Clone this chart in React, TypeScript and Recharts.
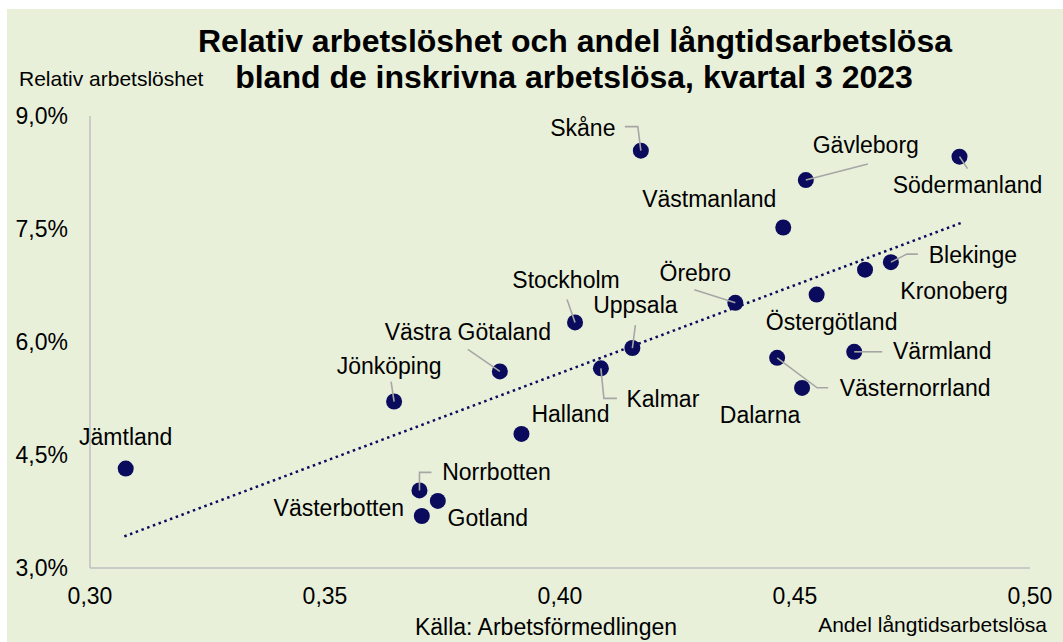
import React from "react";
import { ScatterChart, Scatter, XAxis, YAxis } from "recharts";

// ---- Data ----
const regions = [
  "Jämtland", "Norrbotten", "Gotland", "Västerbotten", "Halland", "Jönköping",
  "Västra Götaland", "Kalmar", "Uppsala", "Stockholm", "Örebro", "Skåne",
  "Västmanland", "Gävleborg", "Södermanland", "Blekinge", "Kronoberg",
  "Östergötland", "Värmland", "Västernorrland", "Dalarna",
];
// Andel långtidsarbetslösa (x)
const andelLangtid = [
  0.3076, 0.3701, 0.3740, 0.3706, 0.3918, 0.3647,
  0.3872, 0.4087, 0.4154, 0.4032, 0.4373, 0.4172,
  0.4475, 0.4523, 0.4850, 0.4704, 0.4649,
  0.4546, 0.4626, 0.4462, 0.4515,
];
// Relativ arbetslöshet, % (y)
const relativArbetsloshet = [
  4.32, 4.03, 3.89, 3.69, 4.78, 5.21,
  5.61, 5.65, 5.92, 6.26, 6.52, 8.54,
  7.52, 8.15, 8.46, 7.06, 6.96,
  6.63, 5.87, 5.79, 5.39,
];
// Trend line endpoints
const trendX = [0.3073, 0.4853];
const trendY = [3.42, 7.58];

const xTicks = [0.3, 0.35, 0.4, 0.45, 0.5];
const yTicks = [3, 4.5, 6, 7.5, 9];

// ---- Label layout (pixel offsets relative to the point) ----
type Layout = { dx: number; dy: number; leader?: [number, number][] };
const labelLayout: Record<string, Layout> = {
  "Jämtland": { dx: 0, dy: -24 },
  "Norrbotten": { dx: 77, dy: -10, leader: [[12, -18], [0, -18], [0, 0]] },
  "Gotland": { dx: 50, dy: 25 },
  "Västerbotten": { dx: -83, dy: 0 },
  "Halland": { dx: 49, dy: -12 },
  "Jönköping": { dx: -5, dy: -28, leader: [[-3, -20], [0, 0]] },
  "Västra Götaland": { dx: -32, dy: -31, leader: [[-32, -22], [0, 0]] },
  "Kalmar": { dx: 62, dy: 39, leader: [[0, 0], [3, 30], [16, 30]] },
  "Uppsala": { dx: 3, dy: -35, leader: [[3, -23], [0, 0]] },
  "Stockholm": { dx: -9, dy: -34, leader: [[-8, -23], [0, 0]] },
  "Örebro": { dx: -40, dy: -22, leader: [[-41, -13], [0, 0]] },
  "Skåne": { dx: -58, dy: -15, leader: [[-16, -24], [-3, -24], [0, 0]] },
  "Västmanland": { dx: -74, dy: -20 },
  "Gävleborg": { dx: 60, dy: -27, leader: [[62, -16], [0, 0]] },
  "Södermanland": { dx: 8, dy: 36, leader: [[8, 12], [0, 0]] },
  "Blekinge": { dx: 82, dy: 1, leader: [[27, -8], [16, -8], [0, 0]] },
  "Kronoberg": { dx: 89, dy: 29 },
  "Östergötland": { dx: 15, dy: 35 },
  "Värmland": { dx: 88, dy: 7, leader: [[0, 0], [28, 0]] },
  "Västernorrland": { dx: 138, dy: 38, leader: [[0, 0], [40, 30], [51, 30]] },
  "Dalarna": { dx: -42, dy: 35 },
};

const points = regions.map((name, i) => ({
  name,
  x: andelLangtid[i],
  y: relativArbetsloshet[i],
}));
const trend = trendX.map((x, i) => ({ x, y: trendY[i] }));

const FONT = "'Liberation Sans', Arial, sans-serif";
const NAVY = "#0B0B5E";
const GREY = "#A6A6A6";
const BG = "#E9F0DA";

const Dot = (props: any) => {
  const { cx, cy } = props;
  if (cx == null || cy == null) return <g />;
  return <circle cx={cx} cy={cy} r={8} fill={NAVY} />;
};

const LabelShape = (props: any) => {
  const { cx, cy, payload } = props;
  if (cx == null || cy == null || !payload) return <g />;
  const lay = labelLayout[payload.name] || { dx: 0, dy: -20 };
  return (
    <g>
      {lay.leader && (
        <polyline
          points={lay.leader.map(([a, b]) => `${cx + a},${cy + b}`).join(" ")}
          fill="none"
          stroke={GREY}
          strokeWidth={1.6}
        />
      )}
      <text
        x={cx + lay.dx}
        y={cy + lay.dy}
        textAnchor="middle"
        fontFamily={FONT}
        fontSize={23}
        fill="#000"
      >
        {payload.name}
      </text>
    </g>
  );
};

const fmtX = (v: number) => v.toFixed(2).replace(".", ",");
const fmtY = (v: number) => v.toFixed(1).replace(".", ",") + "%";

export default function App() {
  return (
    <div
      style={{
        position: "absolute",
        left: 0,
        top: 0,
        width: 1063,
        height: 642,
        background: "#fff",
        overflow: "hidden",
      }}
    >
      <div
        style={{
          position: "absolute",
          left: 7,
          top: 9,
          width: 1056,
          height: 633,
          background: BG,
        }}
      />
      <div style={{ position: "absolute", left: 0, top: 0 }}>
        <ScatterChart
          width={1063}
          height={642}
          margin={{ top: 116, right: 33, bottom: 44, left: 30 }}
        >
          <XAxis
            type="number"
            dataKey="x"
            domain={[0.3, 0.5]}
            ticks={xTicks}
            tickFormatter={fmtX}
            tickLine={false}
            tickSize={0}
            tickMargin={20}
            height={30}
            axisLine={{ stroke: "#BFBFBF", strokeWidth: 1.5 }}
            tick={{ fill: "#000", fontSize: 23, fontFamily: FONT }}
          />
          <YAxis
            type="number"
            dataKey="y"
            domain={[3, 9]}
            ticks={yTicks}
            tickFormatter={fmtY}
            tickLine={false}
            tickSize={0}
            tickMargin={22}
            width={60}
            axisLine={{ stroke: "#BFBFBF", strokeWidth: 1.5 }}
            tick={{ fill: "#000", fontSize: 23, fontFamily: FONT }}
          />
          <Scatter
            data={trend}
            isAnimationActive={false}
            line={{ stroke: NAVY, strokeWidth: 2.5, strokeDasharray: "2.5 3.6" }}
            shape={() => <g />}
          />
          <Scatter data={points} isAnimationActive={false} shape={Dot} />
          <Scatter data={points} isAnimationActive={false} shape={LabelShape} />
        </ScatterChart>
      </div>
      <svg
        width={1063}
        height={642}
        style={{ position: "absolute", left: 0, top: 0, pointerEvents: "none" }}
      >
        <text x={575} y={52} textAnchor="middle" fontFamily={FONT} fontSize={32} fontWeight="bold" fill="#000">
          Relativ arbetslöshet och andel långtidsarbetslösa
        </text>
        <text x={574} y={88} textAnchor="middle" fontFamily={FONT} fontSize={32} fontWeight="bold" fill="#000">
          bland de inskrivna arbetslösa, kvartal 3 2023
        </text>
        <text x={19} y={86} fontFamily={FONT} fontSize={21} fill="#000">
          Relativ arbetslöshet
        </text>
        <text x={1047} y={632} textAnchor="end" fontFamily={FONT} fontSize={21} fill="#000">
          Andel långtidsarbetslösa
        </text>
        <text x={546} y={635} textAnchor="middle" fontFamily={FONT} fontSize={23} fill="#000">
          Källa: Arbetsförmedlingen
        </text>
      </svg>
    </div>
  );
}
